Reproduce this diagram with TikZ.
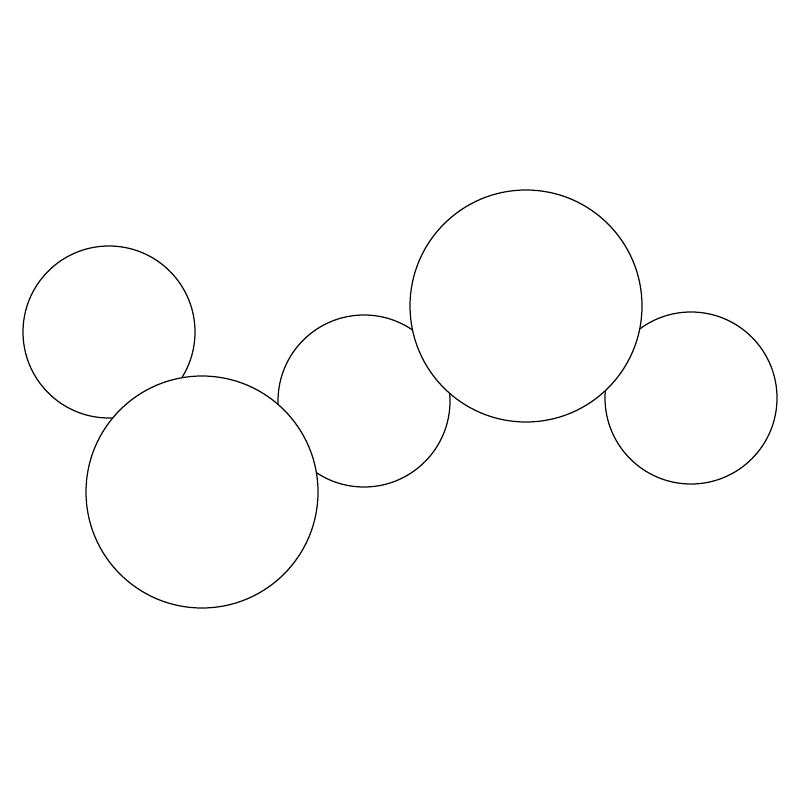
\documentclass[tikz,border=0pt]{standalone}

\tikzset{
    bubble/.style = {circle, draw, fill = white, line width = 0.35pt, inner sep = 0pt, outer sep = 0pt},
    small/.style = {bubble, minimum size = 1.72cm},
    big/.style = {bubble, minimum size = 2.32cm}
}

\begin{document}
\begin{tikzpicture}
                \useasboundingbox (0,0) rectangle (8,-8);
                \node[small] (left) at (1.09,-3.32) {};
                \node[small] (middle) at (3.64,-4.01) {};
                \node[small] (right) at (6.91,-3.98) {};
                \node[big] (lower) at (2.02,-4.92) {};
                \node[big] (upper) at (5.26,-3.06) {};
            \end{tikzpicture}
\end{document}
